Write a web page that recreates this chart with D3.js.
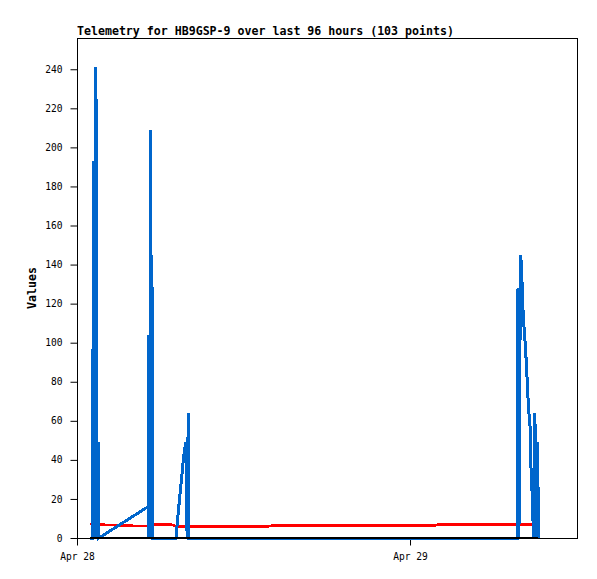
<!DOCTYPE html>
<html><head><meta charset="utf-8">
<script src="https://cdn.jsdelivr.net/npm/d3@7"></script>
<style>body{margin:0;background:#fff}</style>
</head><body>
<script>
const title = "Telemetry for HB9GSP-9 over last 96 hours (103 points)";
const yLabel = "Values";
const yTicks = [0,20,40,60,80,100,120,140,160,180,200,220,240];
const xTickDates = ["2024-04-28 00:00","2024-04-29 00:00"];
const times = [
"2024-04-28 00:56","2024-04-28 01:07","2024-04-28 01:09","2024-04-28 01:11","2024-04-28 01:13",
"2024-04-28 01:17","2024-04-28 01:20","2024-04-28 01:22","2024-04-28 01:24","2024-04-28 01:26",
"2024-04-28 01:31","2024-04-28 01:35","2024-04-28 05:07","2024-04-28 05:09","2024-04-28 05:11",
"2024-04-28 05:14","2024-04-28 05:18","2024-04-28 05:21","2024-04-28 05:24","2024-04-28 05:27",
"2024-04-28 06:42","2024-04-28 07:08","2024-04-28 07:17","2024-04-28 07:25","2024-04-28 07:32",
"2024-04-28 07:38","2024-04-28 07:45","2024-04-28 07:50","2024-04-28 07:53","2024-04-28 07:56",
"2024-04-28 08:01","2024-04-28 08:04","2024-04-28 13:46","2024-04-28 14:03","2024-04-29 01:48",
"2024-04-29 02:01","2024-04-29 07:45","2024-04-29 07:47","2024-04-29 07:51","2024-04-29 07:54",
"2024-04-29 07:58","2024-04-29 08:02","2024-04-29 08:08","2024-04-29 08:13","2024-04-29 08:19",
"2024-04-29 08:24","2024-04-29 08:28","2024-04-29 08:32","2024-04-29 08:39","2024-04-29 08:43",
"2024-04-29 08:47","2024-04-29 08:50","2024-04-29 08:54","2024-04-29 08:58","2024-04-29 09:00",
"2024-04-29 09:03","2024-04-29 09:06","2024-04-29 09:09","2024-04-29 09:12","2024-04-29 09:15"];
const blueValues = [
0,0,97,0,193, 0,241,0,225,0, 49,0,16,0,104, 0,209,0,145,0,
0,0,12,22,30, 38,45,49,37,0, 64,0,0,0,0, 0,0,128,0,72,
145,139,118,108,98, 87,77,67,57,36, 26,16,0,36,64, 25,0,36,49,0];
const redValues = [
7.2,6.9,6.9,6.9,6.9, 6.9,6.9,6.9,6.9,6.9, 6.9,6.9,6.0,6.0,6.0, 6.0,6.0,6.0,7.0,7.0,
7.0,6.0,6.0,6.0,6.0, 6.0,6.0,6.0,6.0,6.0, 6.0,5.9,5.9,6.4,6.4, 7.0,7.0,7.0,7.0,7.0,
7.0,7.0,7.0,7.0,7.0, 7.0,7.0,7.0,7.0,7.0, 7.0,7.0,7.0,7.0,7.0, 7.0,7.0,7.0,7.0,7.0];
const blackValues = [
0,0,0,0,0, 0,0,0,0,0, 0,0,0,0,0, 0,0,0,0,0,
0,0,0,0,0, 0,0,0,0,0, 0,0,0,0,0, 0,0,0,0,0,
0,0,0,0,0, 0,0,0,0,0, 0,0,0,0,0, 0,0,0,0,0];

const W = 597, H = 579;
const m = {left:77, top:38, right:20, bottom:41};
const parse = d3.utcParse("%Y-%m-%d %H:%M");
const T = times.map(parse);

const svg = d3.select("body").append("svg").attr("width",W).attr("height",H)
  .style("font-family","'DejaVu Sans Mono', monospace");

const x = d3.scaleUtc()
  .domain([parse("2024-04-28 00:00"), parse("2024-04-29 12:02")])
  .range([m.left, W - m.right]);
const y = d3.scaleLinear().domain([0, 256]).range([H - m.bottom, m.top]);

svg.append("text").attr("x", m.left).attr("y", 35)
  .attr("font-size","11.6px").attr("font-weight","bold").text(title);

svg.append("rect").attr("x", m.left + 0.5).attr("y", m.top + 0.5)
  .attr("width", W - m.left - m.right).attr("height", H - m.top - m.bottom)
  .attr("fill","none").attr("stroke","#000").attr("stroke-width",1);

const yAxis = svg.append("g").attr("transform",`translate(${m.left+0.5},0)`)
  .call(d3.axisLeft(y).tickValues(yTicks).tickSize(7).tickPadding(8));
yAxis.select(".domain").remove();
yAxis.selectAll("text").attr("font-size","9.6px").attr("font-family","'DejaVu Sans Mono', monospace").attr("fill","#000");
yAxis.selectAll("line").attr("stroke","#000");

const xAxis = svg.append("g").attr("transform",`translate(0,${H - m.bottom + 0.5})`)
  .call(d3.axisBottom(x).tickValues(xTickDates.map(parse)).tickFormat(d3.utcFormat("%b %d")).tickSize(7).tickPadding(8));
xAxis.select(".domain").remove();
xAxis.selectAll("text").attr("font-size","9.6px").attr("font-family","'DejaVu Sans Mono', monospace").attr("fill","#000");
xAxis.selectAll("line").attr("stroke","#000");

svg.append("text").attr("transform",`translate(36,${(m.top + H - m.bottom)/2}) rotate(-90)`)
  .attr("text-anchor","middle").attr("font-size","11.6px").attr("font-weight","bold").text(yLabel);

function draw(vals, color, w) {
  const line = d3.line().x((d,i)=>x(T[i])).y(d=>y(d));
  svg.append("path").datum(vals).attr("d", line)
    .attr("fill","none").attr("stroke",color).attr("stroke-width",w)
    .attr("shape-rendering","crispEdges");
}
draw(redValues, "#ff0000", 2.5);
draw(blueValues, "#0066cc", 3);
draw(blackValues, "#000000", 2.5);
</script>
</body></html>
